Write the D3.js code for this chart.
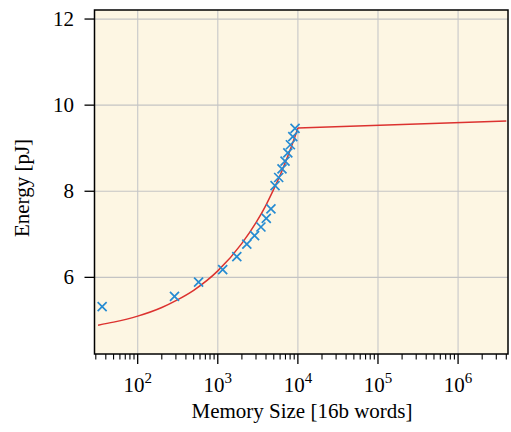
<!DOCTYPE html>
<html>
<head>
<meta charset="utf-8">
<script src="https://cdn.jsdelivr.net/npm/d3@7"></script>
<style>
  body { margin: 0; background: #fff; }
  text { font-family: "Liberation Serif", "DejaVu Serif", serif; fill: #000; }
</style>
</head>
<body>
<svg id="chart" width="511" height="432"></svg>
<script>
// measured points: memory size (16b words) vs energy (pJ)
var sizes = [36, 288, 576, 1152, 1728, 2304, 2880, 3456, 4032, 4608, 5184, 5760, 6336, 6912, 7488, 8064, 8640, 9216];
var energy = [5.32, 5.56, 5.89, 6.18, 6.48, 6.77, 6.97, 7.17, 7.37, 7.59, 8.13, 8.32, 8.52, 8.70, 8.89, 9.08, 9.27, 9.46];

// fitted model line
var fitX = [32, 50, 100, 200, 300, 500, 1000, 2000, 3000, 4000, 5000, 6000, 7000, 8000, 9000, 10000];
var fitY = [4.89, 4.96, 5.10, 5.30, 5.46, 5.70, 6.15, 6.79, 7.27, 7.68, 8.05, 8.37, 8.68, 8.96, 9.22, 9.47];
var flatX = [10000, 4.0e6];
var flatY = [9.47, 9.63];

var yTicks = [6, 8, 10, 12];
var xExps = [2, 3, 4, 5, 6];

var svg = d3.select("#chart");
var pLeft = 94.5, pRight = 508, pTop = 10, pBottom = 354;

var x = d3.scaleLog().domain([28.9, 4.2e6]).range([pLeft, pRight]);
var y = d3.scaleLinear().domain([4.22, 12.21]).range([pBottom, pTop]);

// background
svg.append("rect")
    .attr("x", pLeft).attr("y", pTop)
    .attr("width", pRight - pLeft).attr("height", pBottom - pTop)
    .attr("fill", "#fdf6e3");

// grid
svg.selectAll(".gx").data(xExps).enter().append("line")
    .attr("x1", d => x(Math.pow(10, d))).attr("x2", d => x(Math.pow(10, d)))
    .attr("y1", pTop).attr("y2", pBottom)
    .attr("stroke", "#cbcbcb").attr("stroke-width", 1.2);
svg.selectAll(".gy").data(yTicks).enter().append("line")
    .attr("x1", pLeft).attr("x2", pRight)
    .attr("y1", d => y(d)).attr("y2", d => y(d))
    .attr("stroke", "#c4c4c4").attr("stroke-width", 1.2);

// fit line
var line = d3.line().x(d => x(d[0])).y(d => y(d[1])).curve(d3.curveMonotoneX);
svg.append("path")
    .datum(d3.zip(fitX, fitY))
    .attr("d", line)
    .attr("fill", "none").attr("stroke", "#dc322f").attr("stroke-width", 1.5);
svg.append("path")
    .datum(d3.zip(flatX, flatY))
    .attr("d", d3.line().x(d => x(d[0])).y(d => y(d[1])))
    .attr("fill", "none").attr("stroke", "#dc322f").attr("stroke-width", 1.5);

// markers
var s = 4.5;
svg.append("g").selectAll("path").data(d3.zip(sizes, energy)).enter().append("path")
    .attr("d", d => {
	var cx = x(d[0]), cy = y(d[1]);
	return "M" + (cx - s) + "," + (cy - s) + "L" + (cx + s) + "," + (cy + s) +
	    "M" + (cx - s) + "," + (cy + s) + "L" + (cx + s) + "," + (cy - s);
    })
    .attr("stroke", "#268bd2").attr("stroke-width", 1.7).attr("fill", "none");

// frame
svg.append("rect")
    .attr("x", pLeft).attr("y", pTop)
    .attr("width", pRight - pLeft).attr("height", pBottom - pTop)
    .attr("fill", "none").attr("stroke", "#000").attr("stroke-width", 1.5);

// x ticks (major and minor)
var minor = [];
for (var e = 1; e <= 6; e++) {
    for (var m = 2; m <= 9; m++) {
	var v = m * Math.pow(10, e);
	if (v >= x.domain()[0] && v <= x.domain()[1]) minor.push(v);
    }
}
svg.selectAll(".mt").data(minor).enter().append("line")
    .attr("x1", d => x(d)).attr("x2", d => x(d))
    .attr("y1", pBottom).attr("y2", pBottom + 5.5)
    .attr("stroke", "#000").attr("stroke-width", 1.1);
svg.selectAll(".Mt").data(xExps).enter().append("line")
    .attr("x1", d => x(Math.pow(10, d))).attr("x2", d => x(Math.pow(10, d)))
    .attr("y1", pBottom).attr("y2", pBottom + 10)
    .attr("stroke", "#000").attr("stroke-width", 1.3);

var xl = svg.selectAll(".xl").data(xExps).enter().append("text")
    .attr("x", d => x(Math.pow(10, d)))
    .attr("y", 392)
    .attr("text-anchor", "middle")
    .attr("font-size", 21);
xl.append("tspan").text("10");
xl.append("tspan").attr("dy", -9).attr("font-size", 15).text(d => d);

// y ticks
svg.selectAll(".yt").data(yTicks).enter().append("line")
    .attr("x1", pLeft - 10).attr("x2", pLeft)
    .attr("y1", d => y(d)).attr("y2", d => y(d))
    .attr("stroke", "#000").attr("stroke-width", 1.3);
svg.selectAll(".yl").data(yTicks).enter().append("text")
    .attr("x", 74).attr("y", d => y(d) + 7)
    .attr("text-anchor", "end")
    .attr("font-size", 21)
    .text(d => d);

// axis titles
svg.append("text")
    .attr("x", 302).attr("y", 418)
    .attr("text-anchor", "middle")
    .attr("font-size", 21)
    .text("Memory Size [16b words]");
svg.append("text")
    .attr("transform", "translate(29,188) rotate(-90)")
    .attr("text-anchor", "middle")
    .attr("font-size", 21)
    .text("Energy [pJ]");
</script>
</body>
</html>
